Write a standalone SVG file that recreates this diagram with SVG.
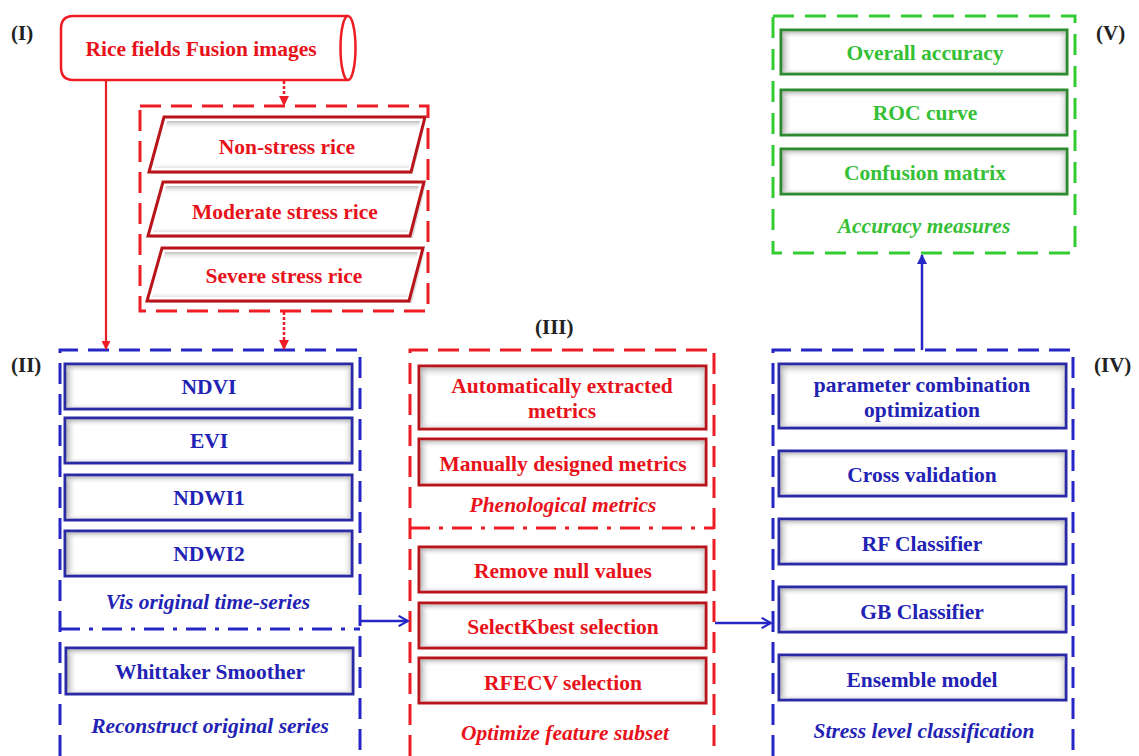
<svg xmlns="http://www.w3.org/2000/svg" width="1139" height="756" viewBox="0 0 1139 756">
<style>
text{font-family:"Liberation Serif","Times New Roman",serif;font-weight:bold;text-anchor:middle}
.t{font-size:21.5px}
.it{font-size:21.5px;font-style:italic}
.lab{font-size:21px;fill:#222;text-anchor:start}
.red{fill:#e8121a}.blue{fill:#2222b4}.green{fill:#35c035}
.dr{fill:none;stroke:#ee1c24;stroke-width:3;stroke-dasharray:21 10}
.drd{fill:none;stroke:#ee1c24;stroke-width:3;stroke-dasharray:20 9 4 9}
.db{fill:none;stroke:#2626c6;stroke-width:3;stroke-dasharray:21 10}
.dbd{fill:none;stroke:#2626c6;stroke-width:3;stroke-dasharray:20 9 4 9}
.dg{fill:none;stroke:#33cc33;stroke-width:3;stroke-dasharray:21 11}
.br{fill:#fff;stroke:#b8141a;stroke-width:3}
.bb{fill:#fff;stroke:#2a2aa6;stroke-width:3}
.bg{fill:#fff;stroke:#2e8a2e;stroke-width:3}
.sh{fill:url(#shH)}.sv{fill:url(#shV)}
</style>
<defs>
<linearGradient id="shH" x1="0" y1="0" x2="1" y2="0">
<stop offset="0" stop-color="#9a9a9a" stop-opacity="0.75"/>
<stop offset="0.035" stop-color="#ffffff" stop-opacity="0"/>
<stop offset="0.97" stop-color="#ffffff" stop-opacity="0"/>
<stop offset="1" stop-color="#bbbbbb" stop-opacity="0.6"/>
</linearGradient>
<linearGradient id="shV" x1="0" y1="0" x2="0" y2="1">
<stop offset="0" stop-color="#a0a0a0" stop-opacity="0.7"/>
<stop offset="0.18" stop-color="#ffffff" stop-opacity="0"/>
<stop offset="0.88" stop-color="#ffffff" stop-opacity="0"/>
<stop offset="1" stop-color="#c8c8c8" stop-opacity="0.5"/>
</linearGradient>
<marker id="aR" viewBox="0 0 10 10" refX="9" refY="5" markerWidth="4" markerHeight="4" orient="auto"><path d="M0 0L10 5L0 10z" fill="#ee1c24"/></marker>
<marker id="aB" viewBox="0 0 10 10" refX="9" refY="5" markerWidth="4" markerHeight="4" orient="auto"><path d="M0 0L10 5L0 10z" fill="#2626c6"/></marker>
<marker id="aO" viewBox="0 0 12 12" refX="10" refY="6" markerWidth="5" markerHeight="5" orient="auto"><path d="M1 1L10 6L1 11" fill="none" stroke="#2626c6" stroke-width="2"/></marker>
</defs>

<g id="labels">
<text class="lab" x="11" y="40">(I)</text>
<text class="lab" x="11" y="372">(II)</text>
<text class="lab" x="535" y="334">(III)</text>
<text class="lab" x="1094" y="372">(IV)</text>
<text class="lab" x="1096" y="40">(V)</text>
</g>

<g id="fusion">
<path d="M348 16L73 16Q61 16 61 29L61 67Q61 80 73 80L348 80" fill="#fff" stroke="#ee1c24" stroke-width="2.5"/>
<ellipse cx="348" cy="48" rx="7.5" ry="32" fill="#fff" stroke="#ee1c24" stroke-width="2.5"/>
<text class="t red" x="201" y="56">Rice fields Fusion images</text>
</g>

<g id="stress">
<rect class="dr" x="140" y="106" width="288" height="205"/>
<g id="p1">
<path d="M151 174L413 174L426 120L166 120z" fill="#bbb" opacity="0.5"/>
<path d="M164 117L425 117L411 172L149 172z" class="br"/>
<path d="M167 121L420 121L409 168L154 168z" fill="url(#shV)"/>
<text class="t red" x="287" y="154">Non-stress rice</text>
</g>
<g id="p2">
<path d="M151 238L413 238L426 184L166 184z" fill="#bbb" opacity="0.5"/>
<path d="M163 182L424 182L410 236L148 236z" class="br"/>
<path d="M166 186L419 186L408 232L153 232z" fill="url(#shV)"/>
<text class="t red" x="285" y="219">Moderate stress rice</text>
</g>
<g id="p3">
<path d="M150 303L412 303L425 250L165 250z" fill="#bbb" opacity="0.5"/>
<path d="M162 248L423 248L409 301L147 301z" class="br"/>
<path d="M165 252L418 252L407 297L152 297z" fill="url(#shV)"/>
<text class="t red" x="284" y="283">Severe stress rice</text>
</g>
</g>

<g id="vis">
<path class="db" d="M60 756L60 350L360 350L360 756"/>
<path class="dbd" d="M60 629L360 629"/>
<g id="ndvi"><rect class="bb" x="65" y="364" width="287" height="45"/><rect class="sh" x="66.5" y="365.5" width="284" height="42"/><rect class="sv" x="66.5" y="365.5" width="284" height="42"/><text class="t blue" x="209" y="394">NDVI</text></g>
<g id="evi"><rect class="bb" x="65" y="418" width="287" height="45"/><rect class="sh" x="66.5" y="419.5" width="284" height="42"/><rect class="sv" x="66.5" y="419.5" width="284" height="42"/><text class="t blue" x="209" y="448">EVI</text></g>
<g id="ndwi1"><rect class="bb" x="65" y="475" width="287" height="45"/><rect class="sh" x="66.5" y="476.5" width="284" height="42"/><rect class="sv" x="66.5" y="476.5" width="284" height="42"/><text class="t blue" x="209" y="505">NDWI1</text></g>
<g id="ndwi2"><rect class="bb" x="65" y="531" width="287" height="45"/><rect class="sh" x="66.5" y="532.5" width="284" height="42"/><rect class="sv" x="66.5" y="532.5" width="284" height="42"/><text class="t blue" x="209" y="561">NDWI2</text></g>
<text class="it blue" x="208" y="609">Vis original time-series</text>
<g id="whittaker"><rect class="bb" x="66" y="648" width="287" height="46"/><rect class="sh" x="67.5" y="649.5" width="284" height="43"/><rect class="sv" x="67.5" y="649.5" width="284" height="43"/><text class="t blue" x="210" y="679">Whittaker Smoother</text></g>
<text class="it blue" x="210" y="733">Reconstruct original series</text>
</g>

<g id="phen">
<path class="dr" d="M410 756L410 350L714 350L714 756"/>
<path class="drd" d="M410 528L714 528"/>
<g id="auto"><rect class="br" x="419" y="366" width="287" height="63"/><rect class="sh" x="420.5" y="367.5" width="284" height="60"/><rect class="sv" x="420.5" y="367.5" width="284" height="60"/><text class="t red" x="562" y="393">Automatically extracted</text><text class="t red" x="562" y="418">metrics</text></g>
<g id="manual"><rect class="br" x="419" y="439" width="287" height="46"/><rect class="sh" x="420.5" y="440.5" width="284" height="43"/><rect class="sv" x="420.5" y="440.5" width="284" height="43"/><text class="t red" x="563" y="471">Manually designed metrics</text></g>
<text class="it red" x="563" y="512">Phenological metrics</text>
<g id="null"><rect class="br" x="419" y="547" width="287" height="45"/><rect class="sh" x="420.5" y="548.5" width="284" height="42"/><rect class="sv" x="420.5" y="548.5" width="284" height="42"/><text class="t red" x="563" y="578">Remove null values</text></g>
<g id="kbest"><rect class="br" x="419" y="603" width="287" height="45"/><rect class="sh" x="420.5" y="604.5" width="284" height="42"/><rect class="sv" x="420.5" y="604.5" width="284" height="42"/><text class="t red" x="563" y="634">SelectKbest selection</text></g>
<g id="rfecv"><rect class="br" x="419" y="658" width="287" height="45"/><rect class="sh" x="420.5" y="659.5" width="284" height="42"/><rect class="sv" x="420.5" y="659.5" width="284" height="42"/><text class="t red" x="563" y="690">RFECV selection</text></g>
<text class="it red" x="565" y="740">Optimize feature subset</text>
</g>

<g id="classify">
<path class="db" d="M773 756L773 350L1073 350L1073 756"/>
<g id="param"><rect class="bb" x="779" y="364" width="287" height="64"/><rect class="sh" x="780.5" y="365.5" width="284" height="61"/><rect class="sv" x="780.5" y="365.5" width="284" height="61"/><text class="t blue" x="922" y="392">parameter combination</text><text class="t blue" x="922" y="417">optimization</text></g>
<g id="cv"><rect class="bb" x="779" y="451" width="287" height="45"/><rect class="sh" x="780.5" y="452.5" width="284" height="42"/><rect class="sv" x="780.5" y="452.5" width="284" height="42"/><text class="t blue" x="922" y="482">Cross validation</text></g>
<g id="rf"><rect class="bb" x="779" y="519" width="287" height="45"/><rect class="sh" x="780.5" y="520.5" width="284" height="42"/><rect class="sv" x="780.5" y="520.5" width="284" height="42"/><text class="t blue" x="922" y="551">RF Classifier</text></g>
<g id="gb"><rect class="bb" x="779" y="587" width="287" height="45"/><rect class="sh" x="780.5" y="588.5" width="284" height="42"/><rect class="sv" x="780.5" y="588.5" width="284" height="42"/><text class="t blue" x="922" y="619">GB Classifier</text></g>
<g id="ensemble"><rect class="bb" x="779" y="655" width="287" height="45"/><rect class="sh" x="780.5" y="656.5" width="284" height="42"/><rect class="sv" x="780.5" y="656.5" width="284" height="42"/><text class="t blue" x="922" y="687">Ensemble model</text></g>
<text class="it blue" x="924" y="738">Stress level classification</text>
</g>

<g id="accuracy">
<rect class="dg" x="773" y="16" width="302" height="237"/>
<g id="oa"><rect class="bg" x="781" y="30" width="286" height="44"/><rect class="sh" x="782.5" y="31.5" width="283" height="41"/><rect class="sv" x="782.5" y="31.5" width="283" height="41"/><text class="t green" x="925" y="60">Overall accuracy</text></g>
<g id="roc"><rect class="bg" x="781" y="90" width="286" height="45"/><rect class="sh" x="782.5" y="91.5" width="283" height="42"/><rect class="sv" x="782.5" y="91.5" width="283" height="42"/><text class="t green" x="925" y="120">ROC curve</text></g>
<g id="cm"><rect class="bg" x="781" y="149" width="286" height="45"/><rect class="sh" x="782.5" y="150.5" width="283" height="42"/><rect class="sv" x="782.5" y="150.5" width="283" height="42"/><text class="t green" x="925" y="180">Confusion matrix</text></g>
<text class="it green" x="924" y="233">Accuracy measures</text>
</g>

<g id="connectors">
<path d="M106 80L106 349" fill="none" stroke="#ee1c24" stroke-width="2.2" marker-end="url(#aR)"/>
<path d="M284 81L284 105" fill="none" stroke="#ee1c24" stroke-width="2.5" stroke-dasharray="3 2" marker-end="url(#aR)"/>
<path d="M284 312L284 349" fill="none" stroke="#ee1c24" stroke-width="2.5" stroke-dasharray="3 2" marker-end="url(#aR)"/>
<path d="M361 621L408 621" fill="none" stroke="#2626c6" stroke-width="2.5" marker-end="url(#aO)"/>
<path d="M715 623L771 623" fill="none" stroke="#2626c6" stroke-width="2.5" marker-end="url(#aO)"/>
<path d="M922 350L922 255" fill="none" stroke="#2626c6" stroke-width="2.5" marker-end="url(#aB)"/>
</g>
</svg>
